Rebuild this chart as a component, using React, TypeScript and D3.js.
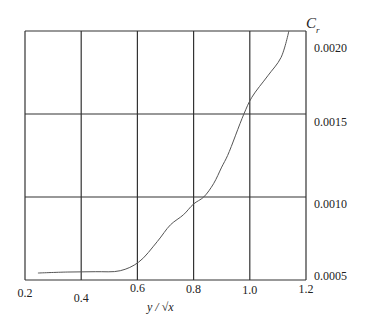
import React from "react";
import * as d3 from "d3";

const xs = [0.246, 0.35, 0.45, 0.539, 0.604, 0.671, 0.718, 0.764, 0.8, 0.836, 0.871, 0.9, 0.921, 0.979, 1.007, 1.064, 1.111, 1.139];
const ys = [0.000542, 0.000548, 0.00055, 0.000556, 0.000607, 0.000732, 0.000833, 0.000893, 0.000958, 0.001, 0.00108, 0.00118, 0.00125, 0.0015, 0.0016, 0.00173, 0.00184, 0.002];
const xTicks = [0.2, 0.4, 0.6, 0.8, 1.0, 1.2];
const yTicks = [0.0005, 0.001, 0.0015, 0.002];

export default function App() {
  const W = 378, H = 314;
  const x = d3.scaleLinear().domain([0.2, 1.2]).range([25, 306]);
  const y = d3.scaleLinear().domain([0.0005, 0.002]).range([280, 31]);
  const line = d3.line<number>().x((d, i) => x(xs[i])).y((d, i) => y(ys[i])).curve(d3.curveCatmullRom.alpha(0.5));
  const xLabelDy = [17, 22, 12, 13, 14, 13];
  const yLabelDy = [0, 11, 12, 21];
  const font = "Times New Roman, Liberation Serif, DejaVu Serif, serif";
  return (
    <svg width={W} height={H} style={{ position: "absolute", left: 0, top: 0, background: "#fff" }}>
      <rect x={0} y={0} width={W} height={H} fill="#fff" />
      {xTicks.map((t) => (
        <line key={"vx" + t} x1={x(t)} x2={x(t)} y1={y(0.002)} y2={y(0.0005)} stroke="#333" strokeWidth={1.2} />
      ))}
      {yTicks.map((t) => (
        <line key={"hy" + t} x1={x(0.2)} x2={x(1.2)} y1={y(t)} y2={y(t)} stroke="#333" strokeWidth={1.2} />
      ))}
      <path d={line(ys) || ""} fill="none" stroke="#555" strokeWidth={1} />
      {xTicks.map((t, i) => (
        <text key={"xl" + t} x={x(t)} y={y(0.0005) + xLabelDy[i]} textAnchor="middle" style={{ fontFamily: font }} fontSize={12} fill="#222">
          {t.toFixed(1)}
        </text>
      ))}
      {yTicks.map((t, i) => (
        <text key={"yl" + t} x={314} y={y(t) + yLabelDy[i]} style={{ fontFamily: font }} fontSize={12} fill="#222">
          {t.toFixed(4)}
        </text>
      ))}
      <text x={306} y={28} style={{ fontFamily: font }} fontSize={15} fontStyle="italic" fill="#222">C</text>
      <text x={316} y={33} style={{ fontFamily: font }} fontSize={9} fontStyle="italic" fill="#222">r</text>
      <text x={147} y={311} style={{ fontFamily: font }} fontSize={12} fontStyle="italic" fill="#222">y / √x</text>
    </svg>
  );
}
